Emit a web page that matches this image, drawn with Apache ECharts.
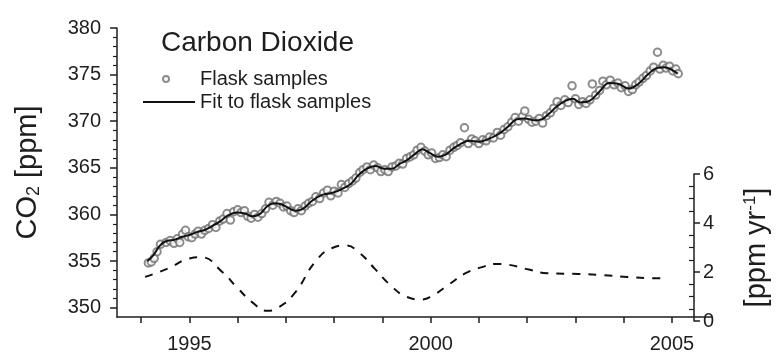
<!DOCTYPE html>
<html>
<head>
<meta charset="utf-8">
<script src="https://cdn.jsdelivr.net/npm/echarts@6/dist/echarts.min.js"></script>
<style>
  html, body { margin: 0; padding: 0; background: #fff; }
  #chart { width: 779px; height: 354px; }
</style>
</head>
<body>
<div id="chart"></div>
<script>
// tick labels
const yearTicks = [1994, 1995, 1996, 1997, 1998, 1999, 2000, 2001, 2002, 2003, 2004, 2005];
const yearLabels = [1995, 2000, 2005];
const co2Labels = [350, 355, 360, 365, 370, 375, 380];
const co2MinorTicks = [351, 352, 353, 354, 356, 357, 358, 359, 361, 362, 363, 364, 366, 367, 368, 369, 371, 372, 373, 374, 376, 377, 378, 379];
const rateLabels = [0, 2, 4, 6];
const rateMinorTicks = [0.5, 1, 1.5, 2.5, 3, 3.5, 4.5, 5, 5.5];

// flask samples [year, ppm]
const flaskSamples = [
  [1994.15, 354.8], [1994.21, 354.9], [1994.27, 355.3], [1994.33, 356.0], [1994.40, 356.8],
  [1994.52, 357.0], [1994.60, 357.2], [1994.68, 356.9], [1994.75, 357.4], [1994.80, 357.0],
  [1994.86, 357.9], [1994.92, 358.3], [1994.98, 357.6], [1995.05, 357.5], [1995.12, 357.9],
  [1995.18, 358.2], [1995.25, 357.9], [1995.32, 358.3], [1995.40, 358.5], [1995.48, 358.9],
  [1995.55, 358.6], [1995.63, 359.3], [1995.70, 359.5], [1995.78, 360.1], [1995.85, 359.4],
  [1995.92, 360.3], [1996.00, 360.5], [1996.07, 360.2], [1996.14, 360.4], [1996.21, 359.8],
  [1996.28, 359.6], [1996.35, 360.0], [1996.42, 359.7], [1996.50, 360.1], [1996.58, 360.6],
  [1996.65, 361.3], [1996.73, 361.0], [1996.80, 361.4], [1996.88, 361.2], [1996.95, 360.8],
  [1997.02, 360.9], [1997.10, 360.4], [1997.17, 360.2], [1997.25, 360.6], [1997.32, 360.4],
  [1997.40, 360.9], [1997.47, 361.2], [1997.55, 361.4], [1997.62, 361.9], [1997.70, 361.7],
  [1997.78, 362.3], [1997.86, 362.6], [1997.93, 362.0], [1998.00, 362.5], [1998.08, 362.3],
  [1998.15, 363.2], [1998.22, 362.9], [1998.30, 363.3], [1998.38, 363.6], [1998.45, 363.9],
  [1998.53, 364.5], [1998.60, 364.8], [1998.68, 365.1], [1998.75, 364.8], [1998.82, 365.3],
  [1998.90, 365.0], [1998.97, 364.6], [1999.05, 364.8], [1999.12, 364.6], [1999.20, 365.1],
  [1999.28, 365.2], [1999.35, 365.5], [1999.42, 365.4], [1999.50, 366.0], [1999.58, 366.2],
  [1999.65, 366.4], [1999.72, 366.9], [1999.80, 367.2], [1999.88, 366.8], [1999.95, 366.4],
  [2000.02, 366.6], [2000.10, 366.0], [2000.18, 366.1], [2000.25, 366.4], [2000.32, 366.2],
  [2000.40, 366.9], [2000.48, 367.2], [2000.55, 367.4], [2000.62, 367.7], [2000.70, 369.3],
  [2000.78, 367.6], [2000.85, 368.1], [2000.92, 367.9], [2001.00, 367.6], [2001.08, 368.0],
  [2001.15, 367.9], [2001.22, 368.3], [2001.30, 368.2], [2001.38, 368.8], [2001.45, 368.5],
  [2001.52, 369.1], [2001.60, 369.4], [2001.68, 369.9], [2001.75, 370.4], [2001.82, 370.0],
  [2001.90, 370.5], [2001.95, 371.1], [2002.03, 370.2], [2002.10, 369.9], [2002.18, 370.0],
  [2002.25, 370.3], [2002.32, 369.8], [2002.40, 370.6], [2002.48, 370.9], [2002.55, 371.4],
  [2002.62, 372.1], [2002.70, 371.7], [2002.78, 372.3], [2002.85, 372.0], [2002.93, 373.8],
  [2003.00, 372.4], [2003.07, 371.8], [2003.15, 372.1], [2003.22, 371.9], [2003.30, 372.3],
  [2003.35, 374.0], [2003.42, 372.8], [2003.50, 373.3], [2003.57, 374.3], [2003.64, 373.9],
  [2003.72, 374.4], [2003.80, 373.9], [2003.88, 374.1], [2003.95, 373.6], [2004.03, 373.8],
  [2004.10, 373.2], [2004.18, 373.4], [2004.25, 373.9], [2004.32, 374.2], [2004.40, 374.6],
  [2004.47, 374.9], [2004.55, 375.4], [2004.62, 375.8], [2004.70, 377.4], [2004.75, 375.6],
  [2004.82, 376.0], [2004.88, 375.7], [2004.95, 375.9], [2005.02, 375.4], [2005.08, 375.6],
  [2005.13, 375.1]
];

// fit to flask samples [year, ppm]
const flaskFit = [
  [1994.13, 355.0], [1994.25, 355.6], [1994.38, 356.6], [1994.5, 357.1], [1994.7, 357.3],
  [1994.85, 357.6], [1995.0, 357.8], [1995.15, 358.1], [1995.3, 358.3], [1995.45, 358.7],
  [1995.62, 359.2], [1995.8, 359.9], [1995.98, 360.2], [1996.15, 360.1], [1996.3, 359.8],
  [1996.45, 360.0], [1996.62, 360.9], [1996.75, 361.2], [1996.9, 361.1], [1997.05, 360.7],
  [1997.2, 360.4], [1997.35, 360.6], [1997.55, 361.5], [1997.75, 362.1], [1997.95, 362.3],
  [1998.15, 362.7], [1998.35, 363.3], [1998.5, 364.2], [1998.67, 364.9], [1998.85, 365.2],
  [1999.05, 364.9], [1999.2, 364.9], [1999.35, 365.4], [1999.5, 365.8], [1999.68, 366.5],
  [1999.83, 367.0], [1999.98, 366.6], [2000.15, 366.2], [2000.3, 366.4], [2000.45, 367.0],
  [2000.6, 367.5], [2000.8, 367.9], [2001.0, 367.8], [2001.2, 368.1], [2001.4, 368.6],
  [2001.6, 369.4], [2001.78, 370.2], [2001.95, 370.3], [2002.15, 370.1], [2002.3, 370.2],
  [2002.45, 370.8], [2002.62, 371.6], [2002.8, 372.2], [2002.95, 372.4], [2003.1, 372.0],
  [2003.3, 372.2], [2003.5, 373.2], [2003.7, 374.1], [2003.9, 374.0], [2004.1, 373.5],
  [2004.3, 374.0], [2004.5, 375.0], [2004.68, 375.7], [2004.85, 375.8], [2005.0, 375.5],
  [2005.12, 375.1]
];

// growth rate [year, ppm/yr]
const growthRate = [
  [1994.1, 1.8], [1994.6, 2.15], [1995.05, 2.55], [1995.3, 2.6], [1995.75, 2.0],
  [1996.05, 1.4], [1996.4, 0.75], [1996.7, 0.42], [1996.95, 0.55], [1997.3, 1.15],
  [1997.75, 2.45], [1998.1, 2.98], [1998.38, 3.08], [1998.67, 2.8], [1999.0, 2.15],
  [1999.35, 1.45], [1999.7, 0.98], [2000.0, 0.88], [2000.25, 1.05], [2000.6, 1.5],
  [2000.95, 1.95], [2001.3, 2.2], [2001.6, 2.33], [2001.85, 2.3], [2002.3, 2.1],
  [2002.7, 1.95], [2003.35, 1.92], [2003.85, 1.88], [2004.4, 1.8], [2004.9, 1.75],
  [2005.17, 1.75]
];

const ink = '#1e1e1e';
const font = 'Liberation Sans, Arial, sans-serif';

const chart = echarts.init(document.getElementById('chart'));

chart.setOption({
  animation: false,
  backgroundColor: '#fff',
  textStyle: { fontFamily: font, color: ink },
  title: {
    text: 'Carbon Dioxide',
    left: 161,
    top: 29,
    padding: 0,
    textStyle: { fontFamily: font, fontSize: 28, fontWeight: 'normal', color: ink }
  },
  legend: [
    {
      data: [{ name: 'Flask samples', icon: 'emptyCircle' }],
      left: 162,
      top: 69,
      padding: 0,
      itemWidth: 6,
      itemHeight: 6,
      textStyle: { fontFamily: font, fontSize: 20, color: ink, padding: [0, 0, 0, 26] }
    },
    {
      data: [{ name: 'Fit to flask samples', icon: 'rect' }],
      left: 143,
      top: 92,
      padding: 0,
      itemWidth: 52,
      itemHeight: 2,
      textStyle: { fontFamily: font, fontSize: 20, color: ink }
    }
  ],
  grid: [
    { left: 117, right: 67, top: 28, bottom: 33 },
    { left: 117, right: 67, top: 174, bottom: 33 }
  ],
  xAxis: [
    {
      type: 'value',
      gridIndex: 0,
      min: 1993.5,
      max: 2005.83,
      splitLine: { show: false },
      axisLine: { lineStyle: { color: ink, width: 1.5 } },
      axisTick: { customValues: yearTicks, length: 6, lineStyle: { color: ink, width: 1.5 } },
      axisLabel: {
        customValues: yearLabels,
        formatter: v => String(v),
        margin: 17,
        fontSize: 20,
        color: ink,
        fontFamily: font
      }
    },
    {
      type: 'value',
      gridIndex: 1,
      min: 1993.5,
      max: 2005.83,
      show: false
    }
  ],
  yAxis: [
    {
      type: 'value',
      gridIndex: 0,
      position: 'left',
      min: 349,
      max: 380,
      name: '{a|CO}{s|2}{a| [ppm]}',
      nameLocation: 'middle',
      nameRotate: 90,
      nameGap: 74,
      nameTextStyle: {
        rich: {
          a: { fontSize: 29, fontFamily: font, color: ink },
          s: { fontSize: 18, fontFamily: font, color: ink, verticalAlign: 'bottom', padding: [12, 0, 0, 0] }
        }
      },
      splitLine: { show: false },
      axisLine: { lineStyle: { color: ink, width: 1.5 } },
      axisTick: { customValues: co2Labels, length: 7, lineStyle: { color: ink, width: 1.5 } },
      axisLabel: { customValues: co2Labels, margin: 16, fontSize: 20, color: ink, fontFamily: font }
    },
    {
      type: 'value',
      gridIndex: 0,
      position: 'left',
      min: 349,
      max: 380,
      splitLine: { show: false },
      axisLine: { show: false },
      axisTick: { customValues: co2MinorTicks, length: 4, lineStyle: { color: ink, width: 1.2 } },
      axisLabel: { show: false }
    },
    {
      type: 'value',
      gridIndex: 1,
      position: 'right',
      min: 0,
      max: 6,
      name: '{a|[ppm yr}{t|-1}{a|]}',
      nameLocation: 'middle',
      nameRotate: 90,
      nameGap: 48,
      nameTextStyle: {
        rich: {
          a: { fontSize: 29, fontFamily: font, color: ink },
          t: { fontSize: 17, fontFamily: font, color: ink, verticalAlign: 'top', padding: [0, 0, 12, 0] }
        }
      },
      splitLine: { show: false },
      axisLine: { lineStyle: { color: ink, width: 1.5 } },
      axisTick: { customValues: rateLabels, length: 6, lineStyle: { color: ink, width: 1.5 } },
      axisLabel: { customValues: rateLabels, margin: 9, fontSize: 20, color: ink, fontFamily: font }
    },
    {
      type: 'value',
      gridIndex: 1,
      position: 'right',
      min: 0,
      max: 6,
      splitLine: { show: false },
      axisLine: { show: false },
      axisTick: { inside: true, customValues: rateMinorTicks, length: 5, lineStyle: { color: ink, width: 1.2 } },
      axisLabel: { show: false }
    }
  ],
  series: [
    {
      name: 'Flask samples',
      type: 'scatter',
      xAxisIndex: 0,
      yAxisIndex: 0,
      data: flaskSamples,
      symbol: 'emptyCircle',
      symbolSize: 7.5,
      itemStyle: { color: '#6f6f6f', borderColor: '#6f6f6f', borderWidth: 1.2 },
      z: 2
    },
    {
      name: 'Fit to flask samples',
      type: 'line',
      xAxisIndex: 0,
      yAxisIndex: 0,
      data: flaskFit,
      smooth: 0.4,
      symbol: 'none',
      lineStyle: { color: '#111', width: 2 },
      itemStyle: { color: '#111' },
      z: 3
    },
    {
      name: 'Growth rate',
      type: 'line',
      xAxisIndex: 1,
      yAxisIndex: 2,
      data: growthRate,
      smooth: 0.5,
      symbol: 'none',
      lineStyle: { color: '#111', width: 2, type: [8, 8] },
      z: 3
    }
  ]
});
</script>
</body>
</html>
